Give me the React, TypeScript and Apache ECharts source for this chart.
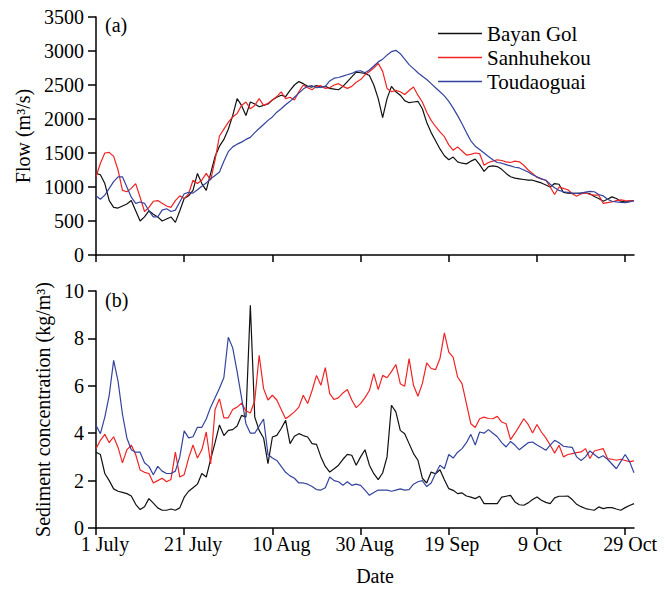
import React, { useEffect, useRef } from 'react';
import * as echarts from 'echarts';

const tickDays = [0, 20, 40, 60, 80, 100, 120];
const tickLabels = ['1 July', '21 July', '10 Aug', '30 Aug', '19 Sep', '9 Oct', '29 Oct'];
const seriesNames = ['Bayan Gol', 'Sanhuhekou', 'Toudaoguai'];
const seriesColors = ['#111111', '#f02424', '#34449e'];

// Flow (m3/s), daily from 1 July
const flowBayanGol = [
  1200, 1180, 1050, 800, 700, 690, 720, 750, 800, 650,
  500, 560, 650, 600, 560, 500, 530, 560, 480, 650,
  830, 870, 950, 1200, 1050, 950, 1200, 1450, 1600, 1700,
  1850, 2050, 2300, 2200, 2050, 2250, 2220, 2180, 2200, 2220,
  2280, 2320, 2350, 2330, 2420, 2500, 2550, 2520, 2480, 2470,
  2490, 2470, 2480, 2450, 2440, 2430, 2480, 2550, 2620, 2690,
  2680, 2670, 2640, 2500, 2300, 2020, 2300, 2480, 2400, 2350,
  2270, 2240, 2250, 2260, 2150, 1950, 1800, 1680, 1560, 1460,
  1400, 1440, 1370, 1350, 1340, 1380, 1410, 1330, 1230, 1300,
  1310, 1300, 1260, 1200, 1150, 1130, 1120, 1110, 1100, 1100,
  1080, 1060, 1030, 1000, 1050, 1040, 920, 910, 905, 905,
  910, 915, 900, 860, 830, 790, 820, 855, 830, 790,
  780, 795, 800,
];
const flowSanhuhekou = [
  1150, 1350, 1500, 1510, 1450, 1250, 950, 930, 980, 1050,
  850, 640, 700, 790, 800, 760, 720, 700, 800, 870,
  830, 900, 1100, 1050, 1100, 1200, 1100, 1400, 1750, 1850,
  1950, 2030, 2080, 2200, 2250, 2150, 2200, 2300, 2200, 2230,
  2280, 2330, 2400, 2300, 2320, 2280, 2400, 2500, 2460, 2430,
  2480, 2490, 2450, 2460, 2500, 2520, 2480, 2450, 2480, 2540,
  2580, 2650, 2700, 2750, 2820, 2700, 2450, 2400, 2420, 2400,
  2360, 2420, 2470, 2350, 2250, 2100, 1980, 1890, 1810, 1740,
  1620, 1540, 1590, 1530, 1470, 1480, 1500, 1490, 1320, 1360,
  1380, 1400, 1390, 1370, 1360, 1380, 1370, 1320, 1250, 1200,
  1140, 1120, 1100, 1000, 890, 1000, 980, 960, 900, 865,
  900, 915, 890, 880, 880, 760, 770, 780, 800, 810,
  800, 795, 800,
];
const flowToudaoguai = [
  870, 820, 880, 980, 1080, 1150, 1150, 1000, 850, 760,
  780, 760, 650, 560, 560, 660, 680, 640, 660, 780,
  900, 920, 910, 960, 1010, 1060, 1120, 1170, 1220, 1380,
  1520, 1590, 1630, 1660, 1700, 1730, 1800, 1860, 1920, 1980,
  2030, 2100, 2150, 2210, 2260, 2320, 2380, 2440, 2480, 2490,
  2460, 2470, 2480, 2560, 2600, 2610, 2630, 2650, 2670, 2700,
  2710, 2680, 2720, 2780, 2840, 2880, 2940, 2990, 3010, 2960,
  2880, 2800, 2740, 2680, 2630, 2580, 2520, 2460, 2400, 2340,
  2260, 2160, 2050, 1930, 1800, 1680, 1600, 1550, 1500, 1450,
  1400, 1360, 1350, 1330, 1310, 1290, 1280, 1250, 1220, 1180,
  1150, 1120, 1100, 1040, 990, 950, 930, 920, 910, 905,
  910, 925, 935, 930, 890, 870, 820, 790, 780, 775,
  770, 780, 800,
];

// Sediment concentration (kg/m3), daily from 1 July
const sedBayanGol = [
  3.2, 3.1, 2.3, 2.0, 1.65, 1.55, 1.5, 1.45, 1.35, 1.0,
  0.78, 0.9, 1.24, 1.05, 0.85, 0.75, 0.75, 0.8, 0.75, 0.85,
  1.3, 1.55, 1.7, 1.85, 2.3, 2.15, 2.9, 3.6, 4.35, 3.9,
  4.12, 4.15, 4.3, 4.75, 4.68, 9.4, 4.68, 4.12, 3.8, 2.72,
  3.84, 3.91, 4.2, 4.54, 3.56, 3.87, 3.98, 3.9, 3.84, 3.56,
  3.53, 3.0, 2.6, 2.36, 2.5, 2.65, 2.9, 3.11, 3.07, 2.65,
  3.0, 3.3, 2.65, 2.29, 2.04, 2.32, 3.0, 5.18, 4.9, 4.12,
  3.98, 3.56, 3.14, 2.86, 2.1, 1.9, 2.36, 2.29, 2.46, 2.04,
  1.66, 1.59, 1.45, 1.48, 1.35, 1.3, 1.24, 1.34, 1.03, 1.03,
  1.03, 1.03, 1.3, 1.34, 1.38, 1.1, 0.98, 0.96, 1.06, 1.2,
  1.31, 1.17, 1.08, 1.03, 1.27, 1.34, 1.34, 1.35, 1.2, 1.0,
  0.9, 0.82, 0.78, 0.75, 0.89, 0.82, 0.86, 0.86, 0.8, 0.75,
  0.86, 0.95, 1.03,
];
const sedSanhuhekou = [
  3.35, 3.7, 3.95, 3.6, 3.85, 3.4, 2.75, 3.3, 3.5, 3.1,
  2.45, 2.35, 2.3, 1.9, 2.0, 2.1, 1.95, 2.05, 3.2, 2.15,
  2.25, 2.95, 3.5, 2.95, 3.3, 4.05, 2.7, 5.0, 5.45, 4.65,
  4.65, 5.0, 5.1, 5.27, 4.95, 4.85, 5.38, 7.29, 5.88, 5.4,
  5.6, 5.4, 5.0, 4.61, 4.75, 4.9, 5.1, 5.6, 5.25, 5.8,
  6.44, 6.02, 6.77, 5.67, 5.42, 5.5, 5.7, 5.84, 5.4, 5.08,
  5.25, 5.5, 5.8, 6.51, 5.84, 6.44, 6.34, 6.6, 6.9, 6.09,
  5.98, 7.15, 6.02, 5.56, 6.09, 6.97, 6.73, 6.68, 7.15, 8.23,
  7.42, 7.2, 6.37, 6.09, 5.25, 4.4, 4.24, 4.61, 4.68, 4.62,
  4.61, 4.71, 4.47, 4.4, 3.73, 4.0, 4.3, 4.61, 4.37, 4.01,
  4.37, 4.05, 3.8, 3.5, 3.16, 3.49, 3.0, 3.1, 3.14, 3.18,
  3.21, 3.35, 2.93, 3.25, 3.3, 3.35, 2.93, 2.9, 2.86, 2.9,
  2.85, 2.8, 2.83,
];
const sedToudaoguai = [
  4.33, 3.98, 4.68, 5.6, 7.07, 6.2, 4.8, 3.8, 3.3, 3.2,
  3.2, 2.75, 2.6, 2.25, 2.6, 2.4, 2.3, 2.3, 2.4, 3.0,
  4.1, 3.8, 3.85, 4.25, 4.25, 4.6, 5.1, 5.5, 5.9, 6.35,
  8.05, 7.6, 6.6, 5.5, 4.4, 4.0, 4.0, 4.3, 4.6, 3.1,
  2.95, 2.85, 2.6, 2.35, 2.2, 2.1, 1.9, 1.9, 1.85, 1.75,
  1.62, 1.6, 1.7, 2.15, 2.0, 1.95, 1.8, 1.95, 1.8, 1.85,
  1.8, 1.6, 1.38, 1.5, 1.6, 1.6, 1.6, 1.55, 1.6, 1.65,
  1.6, 1.62, 1.85, 1.95, 2.0, 1.75, 1.9, 2.3, 2.65, 2.5,
  3.1, 2.95, 3.2, 3.35, 3.6, 3.95, 3.5, 4.05, 4.0, 4.15,
  4.0, 3.85, 3.6, 3.42, 3.65, 3.5, 3.3, 3.45, 3.6, 3.63,
  3.5, 3.4, 3.28, 3.5, 3.7, 3.6, 3.45, 3.42, 3.4, 3.0,
  2.85, 3.0, 3.25, 3.1, 2.95, 3.05, 2.9, 2.7, 2.5, 2.8,
  3.1, 2.8, 2.33,
];

const flowSeries = [flowBayanGol, flowSanhuhekou, flowToudaoguai];
const sedSeries = [sedBayanGol, sedSanhuhekou, sedToudaoguai];

const FONT = '"Liberation Serif", "Times New Roman", serif';
// horizontal nudges of the date labels relative to their ticks, as in the reference
const labelShift = [9, 9, 9, 4, 3, 3, 5];

export default function App() {
  const ref = useRef<HTMLDivElement>(null);
  useEffect(() => {
    if (!ref.current) return;
    const chart = echarts.init(ref.current, undefined, { renderer: 'svg' });
    const axisLine = { show: true, lineStyle: { color: '#000', width: 1.5 } };
    const tickStyle = { color: '#000', width: 1.5 };
    const labelStyle = { color: '#000', fontSize: 20, fontFamily: FONT, lineHeight: 16 };
    const toPairs = (arr: number[]) => arr.map((v, i) => [i, v]);
    const series: any[] = [];
    flowSeries.forEach((arr, k) => {
      series.push({
        name: seriesNames[k], type: 'line', xAxisIndex: 0, yAxisIndex: 0,
        data: toPairs(arr), symbol: 'none', color: seriesColors[k],
        lineStyle: { width: 1.2, color: seriesColors[k] },
      });
    });
    sedSeries.forEach((arr, k) => {
      series.push({
        name: seriesNames[k], type: 'line', xAxisIndex: 1, yAxisIndex: 1,
        data: toPairs(arr), symbol: 'none', color: seriesColors[k],
        lineStyle: { width: 1.2, color: seriesColors[k] },
      });
    });
    const rich: any = {};
    labelShift.forEach((s, i) => {
      rich['s' + i] = { color: '#000', fontSize: 20, fontFamily: FONT, lineHeight: 16, padding: [0, 0, 0, 2 * s] };
    });
    chart.setOption({
      animation: false,
      backgroundColor: '#fff',
      grid: [
        { left: 96, top: 17, width: 538, height: 238 },
        { left: 96, top: 291, width: 538, height: 237 },
      ],
      legend: {
        data: seriesNames,
        orient: 'vertical',
        left: 438,
        top: 23,
        padding: 0,
        icon: 'rect',
        itemWidth: 44,
        itemHeight: 1.5,
        itemGap: 3,
        textStyle: { color: '#000', fontSize: 21, fontFamily: FONT, padding: [0, 0, 0, 0] },
      },
      xAxis: [
        {
          gridIndex: 0, type: 'value', min: 0, max: 122,
          axisLine, splitLine: { show: false },
          axisTick: { show: true, length: 7, lineStyle: tickStyle, customValues: tickDays },
          axisLabel: { show: false },
        },
        {
          gridIndex: 1, type: 'value', min: 0, max: 122,
          axisLine, splitLine: { show: false },
          axisTick: { show: true, length: 7, lineStyle: tickStyle, customValues: tickDays },
          axisLabel: {
            ...labelStyle, margin: 8, customValues: tickDays, rich,
            formatter: (v: number) => {
              const i = tickDays.indexOf(v);
              return i >= 0 ? '{s' + i + '|' + tickLabels[i] + '}' : '';
            },
          },
        },
      ],
      yAxis: [
        {
          gridIndex: 0, type: 'value', min: 0, max: 3500, interval: 500,
          axisLine, splitLine: { show: false },
          axisTick: { show: true, length: 8, lineStyle: tickStyle },
          axisLabel: { ...labelStyle, margin: 12, formatter: (v: number) => String(v) },
          name: 'Flow (m³/s)', nameLocation: 'middle', nameGap: 58,
          nameTextStyle: { color: '#000', fontSize: 20, fontFamily: FONT },
        },
        {
          gridIndex: 1, type: 'value', min: 0, max: 10, interval: 2,
          axisLine, splitLine: { show: false },
          axisTick: { show: true, length: 8, lineStyle: tickStyle },
          axisLabel: { ...labelStyle, margin: 12, formatter: (v: number) => String(v) },
          name: 'Sediment concentration (kg/m³)', nameLocation: 'middle', nameGap: 36,
          nameTextStyle: { color: '#000', fontSize: 20, fontFamily: FONT },
        },
      ],
      graphic: [
        { type: 'text', x: 105, y: 25, style: { text: '(a)', fill: '#000', fontSize: 20, fontFamily: FONT, textVerticalAlign: 'middle' } },
        { type: 'text', x: 105, y: 300, style: { text: '(b)', fill: '#000', fontSize: 20, fontFamily: FONT, textVerticalAlign: 'middle' } },
        { type: 'text', x: 375, y: 576, style: { text: 'Date', fill: '#000', fontSize: 20, fontFamily: FONT, textAlign: 'center', textVerticalAlign: 'middle' } },
      ],
      series,
    });
    return () => chart.dispose();
  }, []);
  return <div ref={ref} style={{ position: 'absolute', left: 0, top: 0, width: 665, height: 589 }} />;
}
